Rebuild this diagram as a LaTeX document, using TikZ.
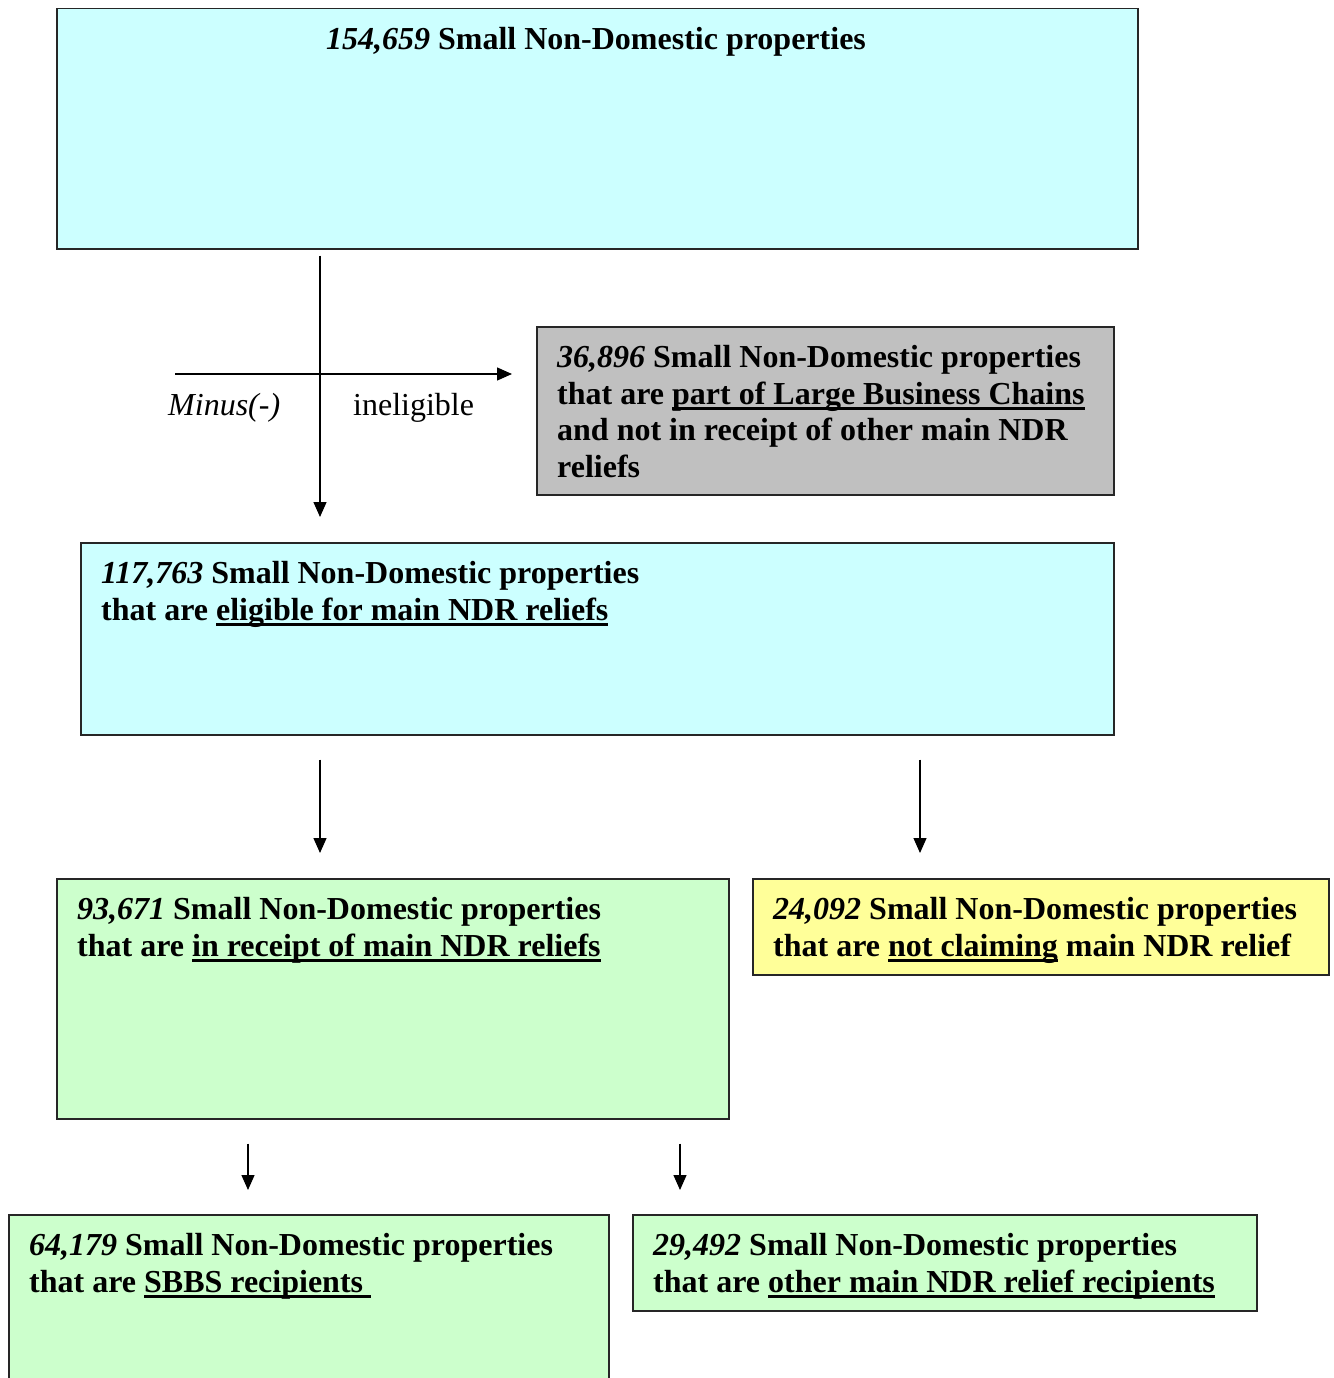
\documentclass[tikz,border=0pt]{standalone}
\usepackage{fontspec}
\setmainfont{Liberation Serif}
\usetikzlibrary{arrows.meta}
\definecolor{cyanbox}{HTML}{CCFFFF}
\definecolor{greybox}{HTML}{C0C0C0}
\definecolor{greenbox}{HTML}{CCFFCC}
\definecolor{yellowbox}{HTML}{FFFF99}
\newcommand\myul[1]{\setbox0\hbox{#1}\rlap{\rule[-5.6pt]{\wd0}{2.4pt}}\box0\relax}
\newcommand\twolines[2]{\vtop{\hbox{#1}\hbox{#2}}}
\begin{document}
\begin{tikzpicture}[x=1pt,y=-1pt,
  box/.style={draw=black!85, line width=1.5pt, anchor=north west, inner sep=0pt},
  txt/.style={anchor=base west, inner sep=0pt, font=\bfseries\fontsize{32}{36.5}\selectfont},
  plain/.style={anchor=base west, inner sep=0pt, font=\fontsize{32}{36.5}\selectfont},
  arr/.style={line width=1.3pt, -{Triangle[length=15pt,width=13pt]}}]
\useasboundingbox (0,0) rectangle (1333,1378);
\clip (0,0) rectangle (1333,1378);
% boxes
\node[box, fill=cyanbox, minimum width=1081pt, minimum height=240pt] (b1) at (56,8) {};
\node[box, fill=greybox, minimum width=577pt, minimum height=168pt] (g) at (536,326) {};
\node[box, fill=cyanbox, minimum width=1033pt, minimum height=192pt] (b2) at (80,542) {};
\node[box, fill=greenbox, minimum width=672pt, minimum height=240pt] (b3) at (56,878) {};
\node[box, fill=yellowbox, minimum width=576pt, minimum height=96pt] (y) at (752,878) {};
\node[box, fill=greenbox, minimum width=600pt, minimum height=240pt] (b4) at (8,1214) {};
\node[box, fill=greenbox, minimum width=624pt, minimum height=96pt] (b5) at (632,1214) {};
% texts
\node[txt, anchor=base] (t1) at (596,50) {\textit{154,659} Small Non-Domestic properties};
\node[txt] (tg) at (557,367.5) {\vtop{\hbox{\textit{36,896} Small Non-Domestic properties}\hbox{that are \myul{part of Large Business Chains}}\hbox{and not in receipt of other main NDR}\hbox{reliefs}}};
\node[txt] (t2) at (101,583.5) {\twolines{\textit{117,763} Small Non-Domestic properties}{that are \myul{eligible for main NDR reliefs}}};
\node[txt] (t3) at (77,919.5) {\twolines{\textit{93,671} Small Non-Domestic properties}{that are \myul{in receipt of main NDR reliefs}}};
\node[txt] (ty) at (773,919.5) {\twolines{\textit{24,092} Small Non-Domestic properties}{that are \myul{not claiming} main NDR relief}};
\node[txt] (t4) at (29,1255.5) {\twolines{\textit{64,179} Small Non-Domestic properties}{that are \myul{SBBS recipients\ }}};
\node[txt] (t5) at (653,1255.5) {\twolines{\textit{29,492} Small Non-Domestic properties}{that are \myul{other main NDR relief recipients}}};
\node[plain] (minus) at (168,415) {\textit{Minus(-)}};
\node[plain] (inel) at (353,415) {ineligible};
% connector columns
\coordinate (cA) at (320,0);
\coordinate (cB) at (920,0);
\coordinate (cC) at (248,0);
\coordinate (cD) at (680,0);
\coordinate (hs) at (175,374);
% connectors
\draw[arr, shorten <=6pt, shorten >=25pt] (b1.south -| cA) -- (b2.north -| cA);
\draw[arr, shorten >=24pt] (hs) -- (hs -| g.west);
\draw[arr, shorten <=24pt, shorten >=25pt] (b2.south -| cA) -- (b3.north -| cA);
\draw[arr, shorten <=24pt, shorten >=25pt] (b2.south -| cB) -- (y.north -| cB);
\draw[arr, shorten <=24pt, shorten >=24pt] (b3.south -| cC) -- (b4.north -| cC);
\draw[arr, shorten <=24pt, shorten >=24pt] (b3.south -| cD) -- (b5.north -| cD);
\end{tikzpicture}
\end{document}
